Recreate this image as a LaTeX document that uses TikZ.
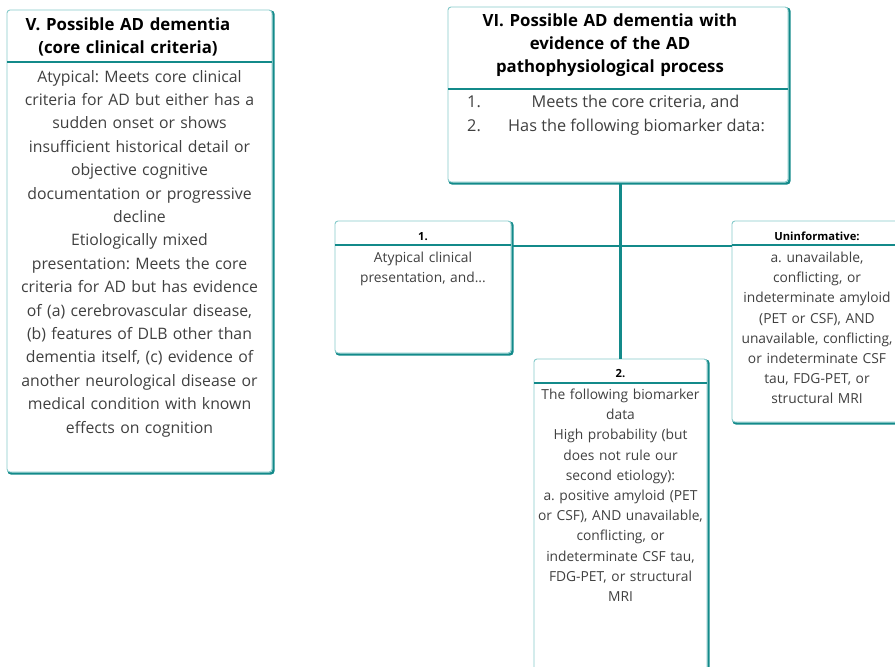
\documentclass[tikz,border=0pt]{standalone}
\usepackage{fontspec}
\setmainfont{Open Sans}
\frenchspacing
\definecolor{lteal}{HTML}{86CACA}
\definecolor{dteal}{HTML}{138A8A}
\definecolor{txt}{HTML}{404040}
\begin{document}
\begin{tikzpicture}[x=1pt,y=-1pt,
  frame/.style={draw=lteal, line width=0.9pt, fill=white, rounded corners=3pt, inner sep=0pt, outer sep=0pt, anchor=north west},
  shadowline/.style={draw=dteal, line width=2.4pt, rounded corners=3pt},
  sepline/.style={draw=dteal, line width=2pt},
  conn/.style={draw=dteal, line width=2.4pt},
  bodytxt/.style={text=txt, align=center, inner sep=0pt, anchor=base},
  headtxt/.style={text=black, align=center, inner sep=0pt, anchor=base, font=\bfseries\fontsize{16.8}{23}\selectfont},
  bigbody/.style={bodytxt, font=\fontsize{15.8}{23.4}\selectfont},
  vibody/.style={bodytxt, font=\fontsize{16.3}{24}\selectfont},
  smallbody/.style={bodytxt, font=\fontsize{13.8}{20.2}\selectfont},
  smallhead/.style={text=black, inner sep=0pt, anchor=base, font=\bfseries\fontsize{11.2}{12}\selectfont}
]
\frenchspacing
\useasboundingbox (0,0) rectangle (895,667);
\clip (0,0) rectangle (895,667);

% ---- Box V
\draw[shadowline] (8.5,11.5) rectangle (273.5,473.5);
\node[frame, minimum width=265pt, minimum height=462pt] (V) at (7,10) {};
\coordinate (V-hl) at (7,62); \coordinate (V-hr) at (272,62);
\draw[sepline] (V-hl) -- (V-hr);
\node[headtxt, text width=262pt] (Vh) at (128,30) {V. Possible AD dementia\\(core clinical criteria)};
\node[bigbody, text width=264pt] (Vb) at (139.5,82) {\frenchspacing Atypical: Meets core clinical\\criteria for AD but either has a\\sudden onset or shows\\insufficient historical detail or\\objective cognitive\\documentation or progressive\\decline\\Etiologically mixed\\presentation: Meets the core\\criteria for AD but has evidence\\of (a) cerebrovascular disease,\\(b) features of DLB other than\\dementia itself, (c) evidence of\\another neurological disease or\\medical condition with known\\effects on cognition};

% ---- Box VI
\draw[shadowline] (449.5,8.5) rectangle (789.5,183.5);
\node[frame, minimum width=340pt, minimum height=175pt] (VI) at (448,7) {};
\coordinate (VI-hl) at (448,89); \coordinate (VI-hr) at (788,89);
\draw[sepline] (VI-hl) -- (VI-hr);
\node[headtxt, text width=330pt] (VIh) at (610,26) {VI. Possible AD dementia with\\evidence of the AD\\pathophysiological process};
\node[vibody, anchor=base west] (n1) at (467,107.5) {1.};
\node[vibody] (t1) at (635.5,107.5) {Meets the core criteria, and};
\node[vibody, anchor=base west] (n2) at (467,131.5) {2.};
\node[vibody] (t2) at (636.5,131.5) {Has the following biomarker data:};

% ---- Box 1
\draw[shadowline] (336.5,222.5) rectangle (512.5,354.5);
\node[frame, minimum width=176pt, minimum height=132pt] (B1) at (335,221) {};
\coordinate (B1-hl) at (335,245); \coordinate (B1-hr) at (511,245);
\draw[sepline] (B1-hl) -- (B1-hr);
\node[smallhead] (B1h) at (423,240) {1.};
\node[smallbody, text width=172pt] (B1b) at (423,262.5) {Atypical clinical\\presentation, and...};

% ---- Box Uninformative
\draw[shadowline] (733.5,222.5) rectangle (906.5,423.5);
\node[frame, minimum width=173pt, minimum height=201pt] (U) at (732,221) {};
\coordinate (U-hl) at (732,245); \coordinate (U-hr) at (905,245);
\draw[sepline] (U-hl) -- (U-hr);
\node[smallhead] (Uh) at (817,240) {Uninformative:};
\node[smallbody, text width=176pt] (Ub) at (817,262.5) {\frenchspacing a. unavailable,\\conflicting, or\\indeterminate amyloid\\(PET or CSF), AND\\unavailable, conflicting,\\or indeterminate CSF\\tau, FDG-PET, or\\structural MRI};

% ---- Box 2
\draw[shadowline] (535.5,360.5) rectangle (708.5,701.5);
\node[frame, minimum width=173pt, minimum height=341pt] (B2) at (534,359) {};
\coordinate (B2-hl) at (534,383); \coordinate (B2-hr) at (707,383);
\draw[sepline] (B2-hl) -- (B2-hr);
\node[smallhead] (B2h) at (620.5,377) {2.};
\node[smallbody, text width=176pt] (B2b) at (620.5,399.5) {\frenchspacing The following biomarker\\data\\High probability (but\\does not rule our\\second etiology):\\a. positive amyloid (PET\\or CSF), AND unavailable,\\conflicting, or\\indeterminate CSF tau,\\FDG-PET, or structural\\MRI};

% ---- Connectors
\draw[conn] (B2.north |- VI.south) ++(0,1.5) -- (B2.north);
\draw[conn] (B1-hr) ++(1.5,1) -- ([yshift=-1pt]U-hl);
\end{tikzpicture}
\end{document}
